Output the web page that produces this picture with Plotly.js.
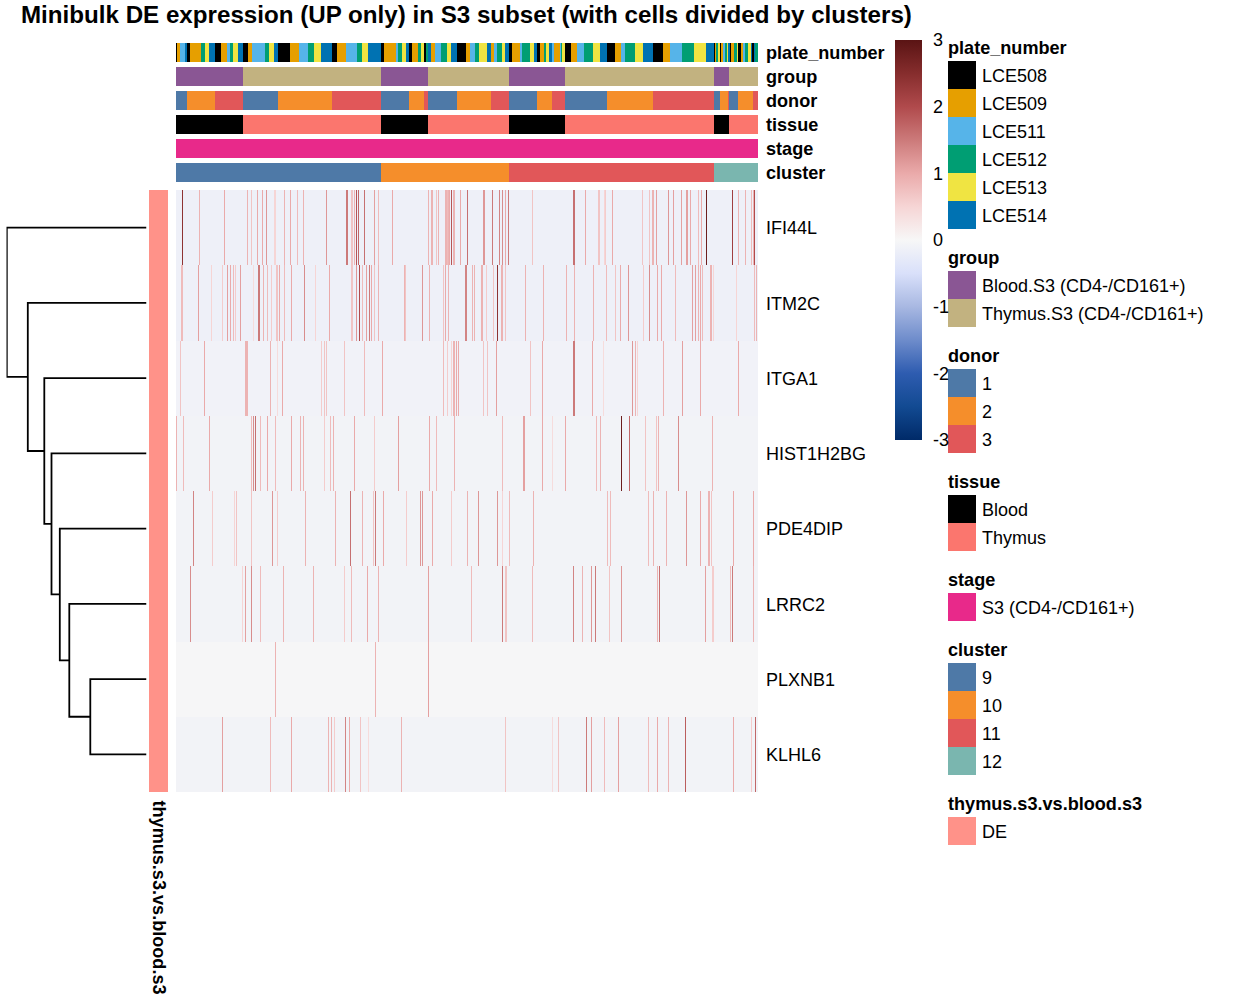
<!DOCTYPE html>
<html><head><meta charset="utf-8">
<script src="https://cdn.plot.ly/plotly-3.0.1.min.js"></script>
<style>html,body{margin:0;padding:0;background:#fff}</style>
</head><body><div id="chart" style="width:1248px;height:998px"></div>
<script>
// ---------- data ----------
const columnCount = 582;
const genes = ["IFI44L","ITM2C","ITGA1","HIST1H2BG","PDE4DIP","LRRC2","PLXNB1","KLHL6"];
const geneBaseline = [-0.15,-0.15,-0.1,-0.08,-0.08,-0.08,-0.02,-0.08];

const IFI44L = [[6,2.4],[23,0.9],[48,1],[71,0.9],[75,0.7],[81,1],[86,1],[90,1.2],[98,0.5],[99,0.5],[108,0.9],[114,1],[121,0.8],[127,0.9],[150,1.2],[170,1.5],[171,1.5],[175,0.7],[176,0.7],[178,0.9],[180,1.9],[182,1.7],[188,1.6],[198,1.1],[202,0.8],[216,1],[252,0.9],[255,0.9],[256,0.9],[260,0.7],[262,0.9],[269,0.9],[270,0.9],[271,0.8],[272,0.9],[273,1],[275,1.9],[277,0.9],[278,0.9],[284,1],[291,1.6],[307,1.2],[308,1.2],[316,1.5],[323,1.4],[326,1.3],[329,1],[332,1.5],[356,0.7],[397,1.6],[398,1.6],[409,1],[422,0.7],[423,0.7],[428,0.5],[429,0.6],[436,1],[466,0.7],[473,0.7],[476,0.9],[477,0.9],[480,1.1],[492,1.2],[497,1.1],[505,1.1],[510,1.1],[511,1.1],[514,1],[522,0.8],[525,1],[530,2.8],[556,2.2],[562,0.9],[569,0.9],[575,0.8],[577,0.9],[578,2]];
const ITM2C = [[5,0.8],[6,0.8],[22,1.1],[35,0.5],[46,0.6],[51,1.1],[54,1],[57,0.8],[59,0.6],[64,1.1],[77,0.4],[82,1.5],[83,1.5],[87,0.9],[91,0.8],[95,0.6],[100,0.7],[101,0.7],[103,1],[108,0.8],[115,1],[128,1.3],[139,0.5],[153,1],[175,0.7],[176,0.7],[180,1.2],[183,2],[186,0.8],[190,1.1],[193,1.5],[195,1],[198,0.7],[202,0.9],[228,0.9],[229,0.7],[246,1.2],[253,0.9],[267,0.7],[269,1],[272,0.9],[289,1.4],[290,1.4],[296,0.9],[298,0.9],[305,0.9],[306,0.9],[310,0.6],[317,0.7],[321,2.4],[325,0.9],[326,0.9],[329,0.7],[349,0.9],[367,0.9],[390,0.9],[398,0.9],[417,0.9],[430,0.8],[439,0.7],[444,1],[452,1.2],[467,0.6],[473,1.3],[481,1],[485,1],[499,0.8],[516,1.1],[519,1.1],[522,0.9],[524,1],[526,0.8],[534,0.9],[535,0.9],[537,0.5],[560,0.5],[578,0.8],[580,0.9]];
const ITGA1 = [[4,0.7],[28,1],[69,0.9],[70,0.9],[71,0.9],[94,0.9],[101,0.4],[106,1],[145,0.6],[148,0.7],[150,0.7],[168,0.7],[188,0.8],[206,1],[267,0.8],[271,0.6],[275,0.5],[277,0.9],[278,0.9],[280,1],[282,1],[307,0.7],[311,0.7],[320,1.1],[354,0.7],[366,1],[397,1.5],[398,1.5],[416,1],[427,0.4],[456,1.2],[459,0.9],[461,0.5],[487,0.9],[506,1.1],[524,1],[562,1]];
const HIST1H2BG = [[0,0.9],[7,0.8],[33,1],[75,0.8],[77,1.3],[79,1.6],[84,0.8],[91,1],[99,0.8],[115,1],[124,0.9],[127,0.9],[148,0.6],[154,0.8],[157,0.9],[178,1],[198,0.6],[222,1.1],[253,1],[260,0.8],[278,0.9],[326,0.8],[347,1.1],[348,1.1],[366,1],[376,0.4],[389,1],[420,0.8],[424,0.9],[445,2.8],[453,1.7],[469,0.7],[480,0.7],[482,0.9],[502,1.3],[536,0.9]];
const PDE4DIP = [[17,1.4],[36,0.6],[58,0.5],[60,0.7],[75,0.7],[96,1.2],[101,0.6],[129,0.9],[159,0.9],[174,1.6],[186,0.9],[197,0.7],[199,1.5],[207,1],[230,0.6],[244,1.2],[246,1.2],[256,1],[275,0.6],[291,0.9],[302,1.2],[321,1.2],[326,0.5],[333,0.8],[357,0.9],[431,0.8],[434,0.8],[472,0.8],[477,0.9],[490,0.9],[510,1.2],[524,1],[532,0.9],[533,0.9],[535,0.7],[557,1],[577,1]];
const LRRC2 = [[14,1.3],[66,0.5],[69,1.1],[75,1.3],[84,0.8],[107,0.9],[137,0.9],[168,0.6],[175,0.8],[191,1],[202,0.9],[252,1.1],[295,0.8],[326,1.5],[329,0.7],[330,0.7],[356,0.8],[397,1.4],[406,0.9],[415,1.2],[419,1.5],[433,0.7],[445,1.2],[481,0.9],[483,1.6],[529,1.1],[536,0.6],[537,0.6],[554,0.8],[556,1.5],[577,0.9]];
const PLXNB1 = [[99,0.9],[199,0.9],[252,1.1]];
const KLHL6 = [[46,1.1],[94,0.8],[115,1],[152,0.9],[155,0.9],[158,0.6],[169,1.4],[173,1],[184,0.7],[192,0.4],[225,0.9],[329,0.7],[376,0.4],[382,0.7],[410,1.5],[415,1.1],[428,0.8],[442,1.1],[472,0.8],[481,1],[492,0.9],[509,1.8],[557,1],[575,0.6],[579,1.7]];
const geneCells = [IFI44L,ITM2C,ITGA1,HIST1H2BG,PDE4DIP,LRRC2,PLXNB1,KLHL6];

// annotation tracks, as runs along the columns
const plateRunIds = [0,1,2,5,0,1,3,4,5,0,1,2,3,4,5,0,1,2,3,4,5,0,1,2,3,4,5,0,1,2,3,4,5,0,1,2,3,4,5,0,1,3,4,0,3,5,1,2,3,4,5,0,1,
  2,3,4,5,1,2,3,4,5,0,1,2,3,4,5,0,1,3,4,5,2,1,2,3,4,0,1,2,3,4,5,0,1,2,3,4,5,0,1,2,3,4,5,
  0,1,3,4,0,1,2,3,4,5,0,1,3,4,0,1,2,3,4,5,0,5,3];
const plateRunLengths = [1,3,5,2,3,11,4,4,6,6,6,3,3,5,5,5,4,13,4,5,4,12,9,9,6,7,11,5,9,11,5,6,13,3,12,2,4,4,3,3,6,3,3,2,2,3,4,6,6,4,6,9,4,
  5,4,8,4,3,3,5,3,4,3,8,2,8,4,3,3,4,2,3,3,2,6,1,1,3,6,6,7,9,7,7,8,6,4,10,8,10,10,7,12,12,12,8,
  1,1,2,2,1,2,2,2,1,2,1,3,3,1,3,2,2,3,3,1,2,1,3];
const groupRunIds = [0,1,0,1,0,1,0,1];
const groupRunLengths = [67,138,47,81,56,149,15,29];
const donorRunIds = [0,1,2,0,1,2,0,1,2,0,1,2,0,1,2,0,1,2,0,1,2,0,1,2];
const donorRunLengths = [11,28,28,35,54,49,28,15,4,29,34,18,28,15,13,42,46,61,6,8,1,9,15,5];
const tissueRunIds = [0,1,0,1,0,1,0,1];
const tissueRunLengths = [67,138,47,81,56,149,15,29];
const stageRunIds = [0];
const stageRunLengths = [582];
const clusterRunIds = [0,1,2,3];
const clusterRunLengths = [205,128,205,44];

const plateLabels = ["LCE508","LCE509","LCE511","LCE512","LCE513","LCE514"];
const plateColors = ["#000000","#E69F00","#56B4E9","#009E73","#F0E442","#0072B2"];
const groupLabels = ["Blood.S3 (CD4-/CD161+)","Thymus.S3 (CD4-/CD161+)"];
const groupColors = ["#8A5694","#C2B280"];
const donorLabels = ["1","2","3"];
const donorColors = ["#4E79A7","#F58E2B","#E15759"];
const tissueLabels = ["Blood","Thymus"];
const tissueColors = ["#000000","#FB766E"];
const stageLabels = ["S3 (CD4-/CD161+)"];
const stageColors = ["#E8298A"];
const clusterLabels = ["9","10","11","12"];
const clusterColors = ["#4E79A7","#F58E2B","#E15759","#7AB6AF"];
const deLabels = ["DE"];
const deColors = ["#FF9289"];

const valueColorscale = [[0,"#002a68"],[0.0833,"#124a92"],[0.1667,"#2e5cb0"],[0.25,"#6e8ccb"],[0.3333,"#a8b8e2"],[0.4167,"#d9e0fa"],[0.5,"#f7f7f7"],[0.5833,"#f6d5d5"],[0.6667,"#eaaaaa"],[0.75,"#cc7a7a"],[0.8333,"#b04a4c"],[0.9167,"#862d2d"],[1,"#5a1414"]];

// dendrogram: merge heights, from the lowest merge (last two rows) to the root
const mergeHeights = [56.2,77.2,86.7,95,102.2,118.7,139.7];

// ---------- layout helpers ----------
const W = 1248, H = 998;
const FONT = "Liberation Sans, Arial, sans-serif";
const xDom = (a,b)=>[a/W,b/W];
const yDom = (top,bottom)=>[1-bottom/H,1-top/H];
function expand(ids,lens){const o=[];ids.forEach((id,i)=>{for(let k=0;k<lens[i];k++)o.push(id);});return o;}
function stepScale(colors){const n=colors.length,o=[];colors.forEach((c,i)=>{o.push([i/n,c]);o.push([(i+1)/n,c]);});return o;}
const columns = Array.from({length:columnCount},(_,i)=>i);

const traces = [];
const layout = {
  width:W,height:H,paper_bgcolor:"#fff",plot_bgcolor:"#fff",showlegend:false,
  margin:{l:0,r:0,t:0,b:0,pad:0,autoexpand:false},
  font:{family:FONT,size:18,color:"#000"},
  title:{text:"<b>Minibulk DE expression (UP only) in S3 subset (with cells divided by clusters)</b>",
    x:21/W,xanchor:"left",xref:"paper",y:1-15/H,yanchor:"middle",yref:"paper",pad:{l:0,r:0,t:0,b:0},font:{family:FONT,size:24.16,color:"#000"}},
  annotations:[]
};
const hidden = {visible:false,showgrid:false,zeroline:false,showticklabels:false,fixedrange:true};
function label(text,px,py,opts){
  layout.annotations.push(Object.assign({text,xref:"paper",yref:"paper",x:px/W,y:1-py/H,xanchor:"left",yanchor:"middle",showarrow:false,borderpad:0,borderwidth:0,font:{family:FONT,size:18,color:"#000"}},opts||{}));
}
const boldFont = {family:FONT,size:18.1,color:"#000"};

// main x axis (columns), shared by the heatmap and the top annotation tracks
layout.xaxis = Object.assign({domain:xDom(176,758),range:[-0.5,columnCount-0.5]},hidden);
// main y axis (gene rows)
layout.yaxis = Object.assign({domain:yDom(190,792),range:[genes.length-0.5,-0.5]},hidden);

// main heatmap
const zMain = genes.map((g,r)=>{const row=new Array(columnCount).fill(geneBaseline[r]);geneCells[r].forEach(c=>{row[c[0]]=c[1];});return row;});
traces.push({type:"heatmap",x:columns,y:genes.map((_,i)=>i),z:zMain,zmin:-3,zmax:3,colorscale:valueColorscale,hoverinfo:"skip",xaxis:"x",yaxis:"y",
  showscale:true,
  colorbar:{x:895/W,xanchor:"left",y:1-40/H,yanchor:"top",lenmode:"pixels",len:400,thicknessmode:"pixels",thickness:27,xpad:0,ypad:0,outlinewidth:0,borderwidth:0,
    tickvals:[-3,-2,-1,0,1,2,3],ticktext:["-3","-2","-1","0","1","2","3"],ticks:"outside",ticklen:8,tickcolor:"rgba(0,0,0,0)",tickfont:{family:FONT,size:18,color:"#000"}}});
genes.forEach((g,i)=>label(g,766,190.8+602*(i+0.5)/genes.length));

// top annotation tracks
const tracks = [
 ["plate_number",plateRunIds,plateRunLengths,plateColors],
 ["group",groupRunIds,groupRunLengths,groupColors],
 ["donor",donorRunIds,donorRunLengths,donorColors],
 ["tissue",tissueRunIds,tissueRunLengths,tissueColors],
 ["stage",stageRunIds,stageRunLengths,stageColors],
 ["cluster",clusterRunIds,clusterRunLengths,clusterColors]
];
tracks.forEach((t,i)=>{
  const top = 43+24*i, ax = i+2;
  layout["yaxis"+ax] = Object.assign({domain:yDom(top,top+19),range:[-0.5,0.5]},hidden);
  traces.push({type:"heatmap",x:columns,y:[0],z:[expand(t[1],t[2])],zmin:-0.5,zmax:t[3].length-0.5,colorscale:stepScale(t[3]),showscale:false,hoverinfo:"skip",xaxis:"x",yaxis:"y"+ax});
  label("<b>"+t[0]+"</b>",766,top+10,{font:boldFont});
});

// left annotation column
layout.xaxis2 = Object.assign({domain:xDom(149,168),range:[-0.5,0.5]},hidden);
traces.push({type:"heatmap",x:[0],y:genes.map((_,i)=>i),z:genes.map(()=>[0]),zmin:-0.5,zmax:0.5,colorscale:stepScale(deColors),showscale:false,hoverinfo:"skip",xaxis:"x2",yaxis:"y"});
label("<b>thymus.s3.vs.blood.s3</b>",158.5,800,{textangle:90,xanchor:"center",yanchor:"top",font:boldFont});

// dendrogram
layout.xaxis3 = Object.assign({domain:xDom(6.5,146.5),range:[140,0]},hidden);
(function(){
  const n=genes.length; const xs=[],ys=[];
  let childPos=n-1, childH=0; // start with last leaf
  for(let m=0;m<mergeHeights.length;m++){
    const leafPos = n-2-m, h=mergeHeights[m];
    xs.push(0,h,h,childH,null); ys.push(leafPos,leafPos,childPos,childPos,null);
    childPos=(leafPos+childPos)/2; childH=h;
  }
  traces.push({type:"scatter",mode:"lines",x:xs,y:ys,xaxis:"x3",yaxis:"y",line:{color:"#000",width:1.8},hoverinfo:"skip",cliponaxis:false,connectgaps:false});
})();

// hand-built legends
const legends = [
 ["plate_number",plateLabels,plateColors,61],
 ["group",groupLabels,groupColors,271],
 ["donor",donorLabels,donorColors,369],
 ["tissue",tissueLabels,tissueColors,495],
 ["stage",stageLabels,stageColors,593],
 ["cluster",clusterLabels,clusterColors,663],
 ["thymus.s3.vs.blood.s3",deLabels,deColors,817]
];
layout.xaxis4 = Object.assign({domain:xDom(948,976),range:[0,1]},hidden);
layout.yaxis8 = Object.assign({domain:[0,1],range:[H,0]},hidden);
const sx=[],sy=[],sc=[];
legends.forEach(l=>{
  label("<b>"+l[0]+"</b>",948,l[3]-13,{font:boldFont});
  l[1].forEach((t,i)=>{sx.push(0.5);sy.push(l[3]+28*i+14);sc.push(l[2][i]);label(t,982,l[3]+28*i+15);});
});
traces.push({type:"scatter",mode:"markers",x:sx,y:sy,xaxis:"x4",yaxis:"y8",marker:{symbol:"square",size:28,color:sc,line:{width:0}},hoverinfo:"skip",cliponaxis:false});

Plotly.newPlot("chart",traces,layout,{displayModeBar:false,staticPlot:true});
</script></body></html>
